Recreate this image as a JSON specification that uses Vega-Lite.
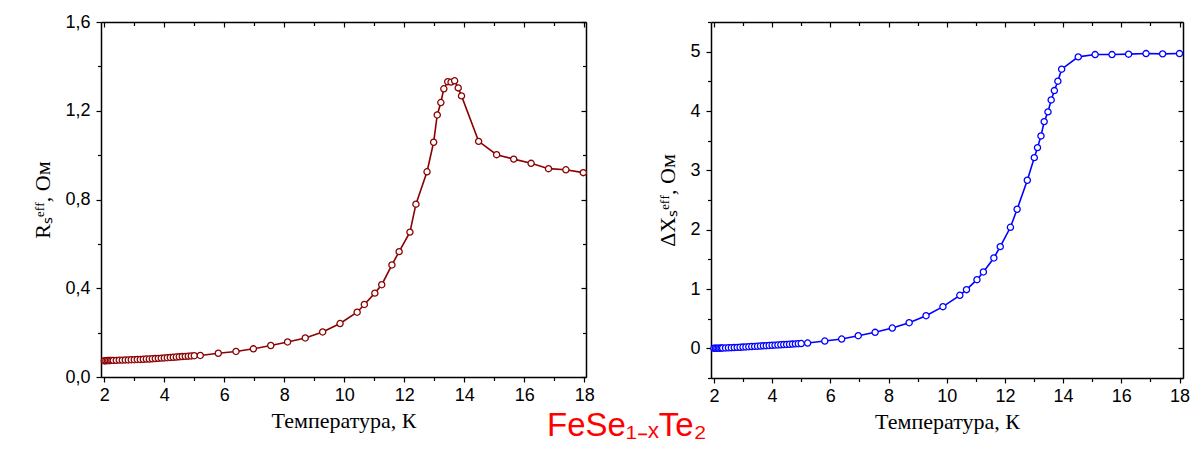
{
  "$schema": "https://vega.github.io/schema/vega-lite/v6.json",
  "background": "white",
  "padding": {"left": 31, "top": 13, "right": 0, "bottom": 0},
  "spacing": 61,
  "title": {
    "text": "FeSe₁₋ₓTe₂",
    "orient": "bottom",
    "anchor": "middle",
    "color": "#ff0000",
    "font": "Liberation Sans",
    "fontSize": 33,
    "fontWeight": "normal",
    "offset": -22,
    "dx": 16
  },
  "datasets": {
    "rs": [
      {"T": 2.0, "v": 0.073}, {"T": 2.05, "v": 0.073}, {"T": 2.1, "v": 0.074}, {"T": 2.15, "v": 0.074},
      {"T": 2.2, "v": 0.074}, {"T": 2.25, "v": 0.075}, {"T": 2.3, "v": 0.075}, {"T": 2.4, "v": 0.075},
      {"T": 2.5, "v": 0.076}, {"T": 2.6, "v": 0.076}, {"T": 2.7, "v": 0.077}, {"T": 2.8, "v": 0.077},
      {"T": 2.9, "v": 0.078}, {"T": 3.0, "v": 0.078}, {"T": 3.1, "v": 0.079}, {"T": 3.2, "v": 0.079},
      {"T": 3.3, "v": 0.080}, {"T": 3.4, "v": 0.081}, {"T": 3.5, "v": 0.081}, {"T": 3.6, "v": 0.082},
      {"T": 3.7, "v": 0.083}, {"T": 3.8, "v": 0.084}, {"T": 3.9, "v": 0.085}, {"T": 4.0, "v": 0.086},
      {"T": 4.1, "v": 0.087}, {"T": 4.2, "v": 0.088}, {"T": 4.3, "v": 0.089}, {"T": 4.4, "v": 0.090},
      {"T": 4.5, "v": 0.091}, {"T": 4.6, "v": 0.092}, {"T": 4.7, "v": 0.093}, {"T": 4.8, "v": 0.094},
      {"T": 4.9, "v": 0.095}, {"T": 5.0, "v": 0.096}, {"T": 5.2, "v": 0.097}, {"T": 5.8, "v": 0.107},
      {"T": 6.39, "v": 0.115}, {"T": 6.97, "v": 0.127}, {"T": 7.55, "v": 0.142}, {"T": 8.11, "v": 0.158},
      {"T": 8.7, "v": 0.176}, {"T": 9.28, "v": 0.203}, {"T": 9.86, "v": 0.241}, {"T": 10.43, "v": 0.292},
      {"T": 10.67, "v": 0.327}, {"T": 11.02, "v": 0.378}, {"T": 11.25, "v": 0.416}, {"T": 11.59, "v": 0.505},
      {"T": 11.83, "v": 0.565}, {"T": 12.19, "v": 0.653}, {"T": 12.39, "v": 0.779}, {"T": 12.76, "v": 0.925},
      {"T": 12.98, "v": 1.058}, {"T": 13.1, "v": 1.181}, {"T": 13.22, "v": 1.237}, {"T": 13.32, "v": 1.299},
      {"T": 13.45, "v": 1.331}, {"T": 13.56, "v": 1.329}, {"T": 13.68, "v": 1.335}, {"T": 13.8, "v": 1.303},
      {"T": 13.91, "v": 1.267}, {"T": 14.48, "v": 1.062}, {"T": 15.08, "v": 1.002}, {"T": 15.65, "v": 0.982},
      {"T": 16.23, "v": 0.963}, {"T": 16.81, "v": 0.939}, {"T": 17.39, "v": 0.934}, {"T": 17.97, "v": 0.921}
    ],
    "xs": [
      {"T": 2.0, "v": 0.0}, {"T": 2.05, "v": 0.0}, {"T": 2.1, "v": 0.001}, {"T": 2.15, "v": 0.002},
      {"T": 2.2, "v": 0.003}, {"T": 2.25, "v": 0.004}, {"T": 2.3, "v": 0.005}, {"T": 2.4, "v": 0.007},
      {"T": 2.5, "v": 0.009}, {"T": 2.6, "v": 0.011}, {"T": 2.7, "v": 0.013}, {"T": 2.8, "v": 0.016},
      {"T": 2.9, "v": 0.018}, {"T": 3.0, "v": 0.021}, {"T": 3.1, "v": 0.024}, {"T": 3.2, "v": 0.027},
      {"T": 3.3, "v": 0.030}, {"T": 3.4, "v": 0.033}, {"T": 3.5, "v": 0.036}, {"T": 3.6, "v": 0.039},
      {"T": 3.7, "v": 0.042}, {"T": 3.8, "v": 0.045}, {"T": 3.9, "v": 0.048}, {"T": 4.0, "v": 0.051},
      {"T": 4.1, "v": 0.054}, {"T": 4.2, "v": 0.057}, {"T": 4.3, "v": 0.060}, {"T": 4.4, "v": 0.063},
      {"T": 4.5, "v": 0.066}, {"T": 4.6, "v": 0.069}, {"T": 4.7, "v": 0.072}, {"T": 4.8, "v": 0.075},
      {"T": 4.9, "v": 0.078}, {"T": 5.0, "v": 0.081}, {"T": 5.22, "v": 0.089}, {"T": 5.81, "v": 0.123},
      {"T": 6.39, "v": 0.157}, {"T": 6.96, "v": 0.213}, {"T": 7.54, "v": 0.270}, {"T": 8.13, "v": 0.342},
      {"T": 8.71, "v": 0.432}, {"T": 9.29, "v": 0.550}, {"T": 9.87, "v": 0.702}, {"T": 10.45, "v": 0.894},
      {"T": 10.68, "v": 0.989}, {"T": 11.04, "v": 1.157}, {"T": 11.26, "v": 1.287}, {"T": 11.62, "v": 1.523},
      {"T": 11.84, "v": 1.714}, {"T": 12.19, "v": 2.040}, {"T": 12.42, "v": 2.344}, {"T": 12.77, "v": 2.833},
      {"T": 13.01, "v": 3.214}, {"T": 13.12, "v": 3.383}, {"T": 13.24, "v": 3.580}, {"T": 13.35, "v": 3.821},
      {"T": 13.48, "v": 3.985}, {"T": 13.59, "v": 4.187}, {"T": 13.7, "v": 4.344}, {"T": 13.82, "v": 4.503},
      {"T": 13.95, "v": 4.705}, {"T": 14.52, "v": 4.912}, {"T": 15.1, "v": 4.951}, {"T": 15.68, "v": 4.951},
      {"T": 16.25, "v": 4.958}, {"T": 16.85, "v": 4.968}, {"T": 17.42, "v": 4.963}, {"T": 18.0, "v": 4.968}
    ]
  },
  "hconcat": [
    {
      "width": 485,
      "height": 355,
      "data": {"name": "rs"},
      "layer": [
        {
          "mark": {"type": "line", "color": "#8b0000", "strokeWidth": 1.6},
          "encoding": {
            "x": {
              "field": "T", "type": "quantitative",
              "scale": {"domain": [1.89, 18.06], "nice": false, "zero": false},
              "axis": {
                "orient": "bottom", "title": "Температура, К",
                "values": [2,3,4,5,6,7,8,9,10,11,12,13,14,15,16,17,18],
                "labelExpr": "datum.value % 2 === 0 ? datum.label : ''",
                "tickSize": {"condition": {"test": "datum.value % 2 === 0", "value": 5}, "value": 3.5},
                "labelPadding": 4, "titlePadding": 6
              }
            },
            "y": {
              "field": "v", "type": "quantitative",
              "scale": {"domain": [0, 1.6], "nice": false, "zero": false},
              "axis": {
                "orient": "left", "title": "Rₛᵉᶠᶠ, Ом",
                "values": [0,0.2,0.4,0.6,0.8,1.0,1.2,1.4,1.6],
                "labelExpr": "round(datum.value*5) % 2 === 0 ? replace(format(datum.value, '.1f'), '.', ',') : ''",
                "tickSize": {"condition": {"test": "round(datum.value*5) % 2 === 0", "value": 5}, "value": 3.5},
                "labelPadding": 6, "titlePadding": 10
              }
            }
          }
        },
        {
          "mark": {"type": "point", "shape": "circle", "filled": false, "fill": "white", "fillOpacity": 1, "stroke": "#8b0000", "strokeWidth": 1.3, "size": 38, "opacity": 1},
          "encoding": {
            "x": {
              "field": "T", "type": "quantitative",
              "axis": {
                "orient": "top", "title": null, "labels": false,
                "values": [2,3,4,5,6,7,8,9,10,11,12,13,14,15,16,17,18],
                "tickSize": {"condition": {"test": "datum.value % 2 === 0", "value": -5}, "value": -3.5}
              }
            },
            "y": {
              "field": "v", "type": "quantitative",
              "axis": {
                "orient": "right", "title": null, "labels": false,
                "values": [0,0.2,0.4,0.6,0.8,1.0,1.2,1.4,1.6],
                "tickSize": {"condition": {"test": "round(datum.value*5) % 2 === 0", "value": -5}, "value": -3.5}
              }
            }
          }
        }
      ],
      "resolve": {"axis": {"x": "independent", "y": "independent"}}
    },
    {
      "width": 472,
      "height": 356,
      "data": {"name": "xs"},
      "layer": [
        {
          "mark": {"type": "line", "color": "#0000ff", "strokeWidth": 1.6},
          "encoding": {
            "x": {
              "field": "T", "type": "quantitative",
              "scale": {"domain": [1.9, 18.12], "nice": false, "zero": false},
              "axis": {
                "orient": "bottom", "title": "Температура, К",
                "values": [2,3,4,5,6,7,8,9,10,11,12,13,14,15,16,17,18],
                "labelExpr": "datum.value % 2 === 0 ? datum.label : ''",
                "tickSize": {"condition": {"test": "datum.value % 2 === 0", "value": 5}, "value": 3.5},
                "labelPadding": 4, "titlePadding": 6
              }
            },
            "y": {
              "field": "v", "type": "quantitative",
              "scale": {"domain": [-0.5, 5.5], "nice": false, "zero": false},
              "axis": {
                "orient": "left", "title": "ΔXₛᵉᶠᶠ, Ом",
                "values": [-0.5,0,0.5,1,1.5,2,2.5,3,3.5,4,4.5,5,5.5],
                "labelExpr": "datum.value % 1 === 0 ? format(datum.value, 'd') : ''",
                "tickSize": {"condition": {"test": "datum.value % 1 === 0", "value": 5}, "value": 3.5},
                "labelPadding": 6, "titlePadding": 10
              }
            }
          }
        },
        {
          "mark": {"type": "point", "shape": "circle", "filled": false, "fill": "white", "fillOpacity": 1, "stroke": "#0000ff", "strokeWidth": 1.3, "size": 38, "opacity": 1},
          "encoding": {
            "x": {
              "field": "T", "type": "quantitative",
              "axis": {
                "orient": "top", "title": null, "labels": false,
                "values": [2,3,4,5,6,7,8,9,10,11,12,13,14,15,16,17,18],
                "tickSize": {"condition": {"test": "datum.value % 2 === 0", "value": -5}, "value": -3.5}
              }
            },
            "y": {
              "field": "v", "type": "quantitative",
              "axis": {
                "orient": "right", "title": null, "labels": false,
                "values": [-0.5,0,0.5,1,1.5,2,2.5,3,3.5,4,4.5,5,5.5],
                "tickSize": {"condition": {"test": "datum.value % 1 === 0", "value": -5}, "value": -3.5}
              }
            }
          }
        }
      ],
      "resolve": {"axis": {"x": "independent", "y": "independent"}}
    }
  ],
  "config": {
    "view": {"stroke": null},
    "axis": {
      "grid": false,
      "domainColor": "#000000",
      "domainWidth": 1.5,
      "tickColor": "#000000",
      "tickWidth": 1.2,
      "labelFont": "Liberation Sans",
      "labelFontSize": 18,
      "labelColor": "#000000",
      "titleFont": "Liberation Serif",
      "titleFontSize": 22,
      "titleFontWeight": "normal",
      "titleColor": "#000000",
      "labelFlush": false,
      "labelOverlap": false
    }
  }
}
